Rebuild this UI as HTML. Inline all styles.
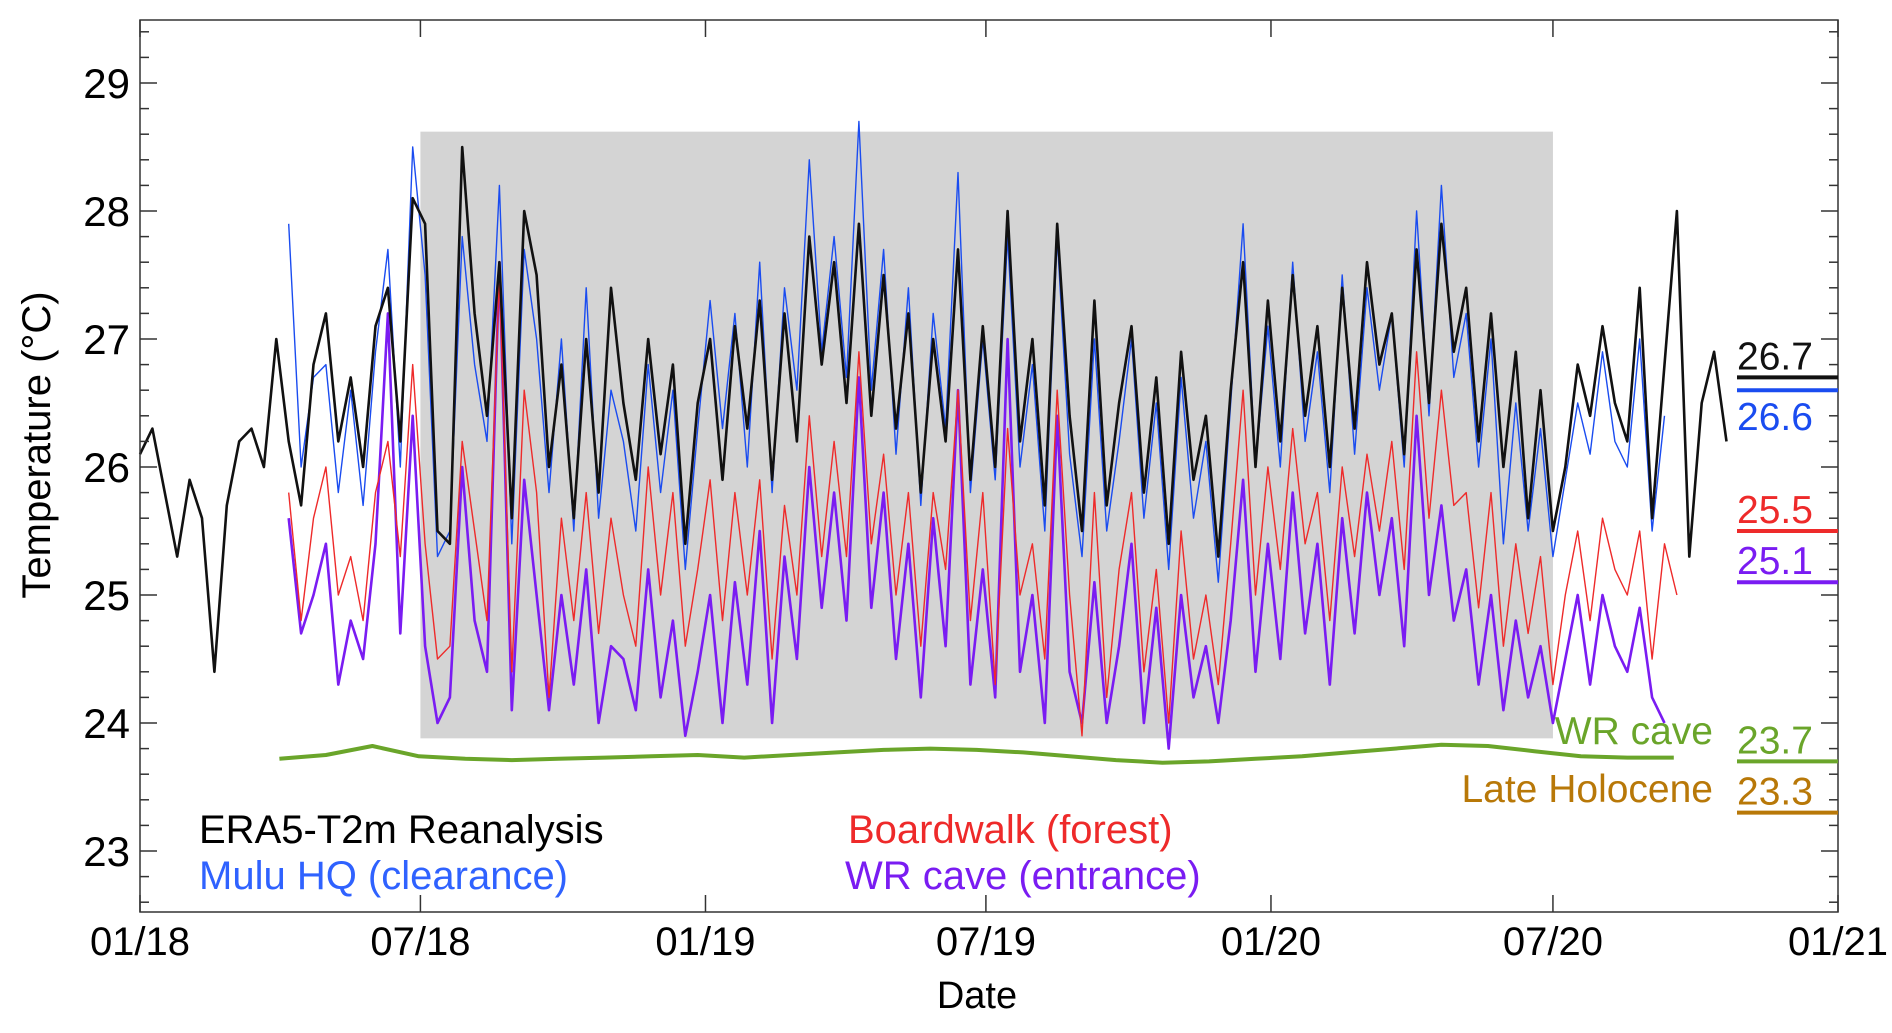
<!DOCTYPE html>
<html><head><meta charset="utf-8"><style>
body{margin:0;background:#fff}
svg text{font-family:"Liberation Sans",Arial,sans-serif}
</style></head><body>
<svg id="chart" width="1892" height="1028" xmlns="http://www.w3.org/2000/svg">
<g id="plot"></g>
</svg>
<script>
const era5Start=0, hqStart=96, step=8;
const era5=[26.1,26.3,25.8,25.3,25.9,25.6,24.4,25.7,26.2,26.3,26.0,27.0,26.2,25.7,26.8,27.2,26.2,26.7,26.0,27.1,27.4,26.2,28.1,27.9,25.5,25.4,28.5,27.2,26.4,27.6,25.6,28.0,27.5,26.0,26.8,25.6,27.0,25.8,27.4,26.5,25.9,27.0,26.1,26.8,25.4,26.5,27.0,25.9,27.1,26.3,27.3,25.9,27.2,26.2,27.8,26.8,27.6,26.5,27.9,26.4,27.5,26.3,27.2,25.8,27.0,26.2,27.7,25.9,27.1,26.0,28.0,26.2,27.0,25.7,27.9,26.4,25.5,27.3,25.7,26.5,27.1,25.8,26.7,25.4,26.9,25.9,26.4,25.3,26.6,27.6,26.0,27.3,26.2,27.5,26.4,27.1,26.0,27.4,26.3,27.6,26.8,27.2,26.1,27.7,26.5,27.9,26.9,27.4,26.2,27.2,26.0,26.9,25.6,26.6,25.5,26.0,26.8,26.4,27.1,26.5,26.2,27.4,25.6,26.8,28.0,25.3,26.5,26.9,26.2];
const muluHQ=[27.9,26.0,26.7,26.8,25.8,26.6,25.7,26.9,27.7,26.0,28.5,27.5,25.3,25.5,27.8,26.8,26.2,28.2,25.4,27.7,27.0,25.8,27.0,25.5,27.4,25.6,26.6,26.2,25.5,26.8,25.8,26.6,25.2,26.3,27.3,26.3,27.2,26.0,27.6,25.8,27.4,26.6,28.4,26.9,27.8,26.7,28.7,26.6,27.7,26.1,27.4,25.7,27.2,26.3,28.3,25.8,27.0,25.9,27.8,26.0,26.8,25.5,27.8,26.1,25.3,27.0,25.5,26.2,27.0,25.6,26.5,25.2,26.7,25.6,26.2,25.1,26.5,27.9,26.0,27.1,26.0,27.6,26.2,26.9,25.8,27.5,26.1,27.4,26.6,27.2,26.0,28.0,26.4,28.2,26.7,27.2,26.0,27.0,25.4,26.5,25.5,26.3,25.3,25.9,26.5,26.1,26.9,26.2,26.0,27.0,25.5,26.4];
const boardwalk=[25.8,24.8,25.6,26.0,25.0,25.3,24.8,25.8,26.2,25.3,26.8,25.4,24.5,24.6,26.2,25.5,24.8,27.5,24.4,26.6,25.8,24.2,25.6,24.8,25.8,24.7,25.6,25.0,24.6,26.0,25.0,25.8,24.6,25.2,25.9,24.8,25.8,25.0,25.9,24.5,25.7,25.0,26.4,25.3,26.2,25.3,26.9,25.4,26.1,25.0,25.8,24.6,25.8,25.2,26.6,24.8,25.8,24.3,26.3,25.0,25.4,24.5,26.6,25.0,23.9,25.8,24.2,25.2,25.8,24.4,25.2,24.0,25.5,24.5,25.0,24.3,25.4,26.6,25.0,26.0,25.2,26.3,25.4,25.8,24.8,26.0,25.3,26.1,25.5,26.2,25.2,26.9,25.6,26.6,25.7,25.8,24.9,25.8,24.6,25.4,24.7,25.3,24.3,25.0,25.5,24.8,25.6,25.2,25.0,25.5,24.5,25.4,25.0];
const wrEntrance=[25.6,24.7,25.0,25.4,24.3,24.8,24.5,25.4,27.2,24.7,26.4,24.6,24.0,24.2,26.0,24.8,24.4,27.6,24.1,25.9,25.0,24.1,25.0,24.3,25.2,24.0,24.6,24.5,24.1,25.2,24.2,24.8,23.9,24.4,25.0,24.0,25.1,24.3,25.5,24.0,25.3,24.5,26.0,24.9,25.8,24.8,26.7,24.9,25.8,24.5,25.4,24.2,25.6,24.6,26.6,24.3,25.2,24.2,27.0,24.4,25.0,24.0,26.4,24.4,24.0,25.1,24.0,24.6,25.4,24.0,24.9,23.8,25.0,24.2,24.6,24.0,24.8,25.9,24.4,25.4,24.5,25.8,24.7,25.4,24.3,25.6,24.7,25.8,25.0,25.6,24.6,26.4,25.0,25.7,24.8,25.2,24.3,25.0,24.1,24.8,24.2,24.6,24.0,24.5,25.0,24.3,25.0,24.6,24.4,24.9,24.2,24.0];
const caveStart=90, caveStep=30;
const wrCave=[23.72,23.75,23.82,23.74,23.72,23.71,23.72,23.73,23.74,23.75,23.73,23.75,23.77,23.79,23.80,23.79,23.77,23.74,23.71,23.69,23.70,23.72,23.74,23.77,23.80,23.83,23.82,23.78,23.74,23.73,23.73];
const xTickLabels=["01/18","07/18","01/19","07/19","01/20","07/20","01/21"];
const xTickDays=[0,181,365,546,730,912,1096];
const yTicks=[23,24,25,26,27,28,29];
const meanNames=["era5-mean","hq-mean","boardwalk-mean","entrance-mean","cave-mean","holocene-mean"];
const meanValues=[26.7,26.6,25.5,25.1,23.7,23.3];
const meanColors=["#111","#1a4cf0","#ee2a2a","#7a1cf2","#6aa52a","#b87808"];

const L=140,R=1838,T=20,B=912;
const X=d=>L+d/1096*(R-L);
const Y=v=>211+(28-v)*128;
const NS="http://www.w3.org/2000/svg";
const g=document.getElementById('plot');
function mk(tag,attrs,parent){const e=document.createElementNS(NS,tag);for(const k in attrs)e.setAttribute(k,attrs[k]);(parent||g).appendChild(e);return e;}
function txt(s,attrs,name){const e=mk('text',attrs);e.textContent=s;return e;}

const sh=mk('rect',{x:X(181),y:Y(28.62),width:X(912)-X(181),height:Y(23.88)-Y(28.62),fill:'#d4d4d4'});



function line(arr,start,st,color,w,name){
  const pts=arr.map((v,i)=>X(start+i*st).toFixed(1)+','+Y(v).toFixed(1)).join(' ');
  const p=mk('polyline',{points:pts,fill:'none',stroke:color,'stroke-width':w,'stroke-linejoin':'round'});
  
  
}
line(wrCave,caveStart,caveStep,'#6aa52a',4,'wr-cave-line');
line(wrEntrance,hqStart,step,'#7a1cf2',2.6,'wr-entrance-line');
line(boardwalk,hqStart,step,'#ee2a2a',1.4,'boardwalk-line');
line(muluHQ,hqStart,step,'#1a4cf0',1.4,'mulu-hq-line');
line(era5,era5Start,step,'#111',2.6,'era5-line');

const fr=mk('rect',{x:L,y:T,width:R-L,height:B-T,fill:'none',stroke:'#333','stroke-width':1.5});



for(let k=0;k<=35;k++){
  const v=22.6+k*0.2; if(v>29.45)break;
  const major=Math.abs(v-Math.round(v))<0.01;
  const len=major?17:9, y=Y(v);
  mk('line',{x1:L,x2:L+len,y1:y,y2:y,stroke:'#333','stroke-width':1.5});
  mk('line',{x1:R,x2:R-len,y1:y,y2:y,stroke:'#333','stroke-width':1.5});
}
yTicks.forEach(v=>txt(String(v),{x:130,y:Y(v)+15,'font-size':42,'text-anchor':'end',fill:'#000'},'y-tick-label'));
xTickDays.forEach((d,i)=>{
  mk('line',{x1:X(d),x2:X(d),y1:B,y2:B-17,stroke:'#333','stroke-width':1.5});
  mk('line',{x1:X(d),x2:X(d),y1:T,y2:T+17,stroke:'#333','stroke-width':1.5});
  txt(xTickLabels[i],{x:X(d),y:955,'font-size':40,'text-anchor':'middle',fill:'#000'},'x-tick-label');
});
txt('Date',{x:977,y:1008,'font-size':38,'text-anchor':'middle',fill:'#000'},'x-axis-title');
txt('Temperature (°C)',{x:0,y:0,'font-size':40,'text-anchor':'middle',fill:'#000',transform:'translate(50,445) rotate(-90)'},'y-axis-title');

meanValues.forEach((v,i)=>{
  const y=Y(v);
  const l=mk('line',{x1:1737,x2:R,y1:y,y2:y,stroke:meanColors[i],'stroke-width':4});
  
  
  const below=i===1;
  txt(v.toFixed(1),{x:1737,y:below?y+40:y-8,'font-size':39,fill:meanColors[i]},meanNames[i]+'-label');
});
txt('WR cave',{x:1713,y:744,'font-size':39,'text-anchor':'end',fill:'#6aa52a'},'wr-cave-label');
txt('Late Holocene',{x:1713,y:802,'font-size':39,'text-anchor':'end',fill:'#b87808'},'late-holocene-label');

txt('ERA5-T2m Reanalysis',{x:199,y:843,'font-size':40,fill:'#000'},'legend-era5');
txt('Mulu HQ (clearance)',{x:199,y:889,'font-size':40,fill:'#2f62ff'},'legend-mulu-hq');
txt('Boardwalk (forest)',{x:848,y:843,'font-size':40,fill:'#ee2a2a'},'legend-boardwalk');
txt('WR cave (entrance)',{x:845,y:889,'font-size':40,fill:'#7a1cf2'},'legend-wr-entrance');
</script>
</body></html>
